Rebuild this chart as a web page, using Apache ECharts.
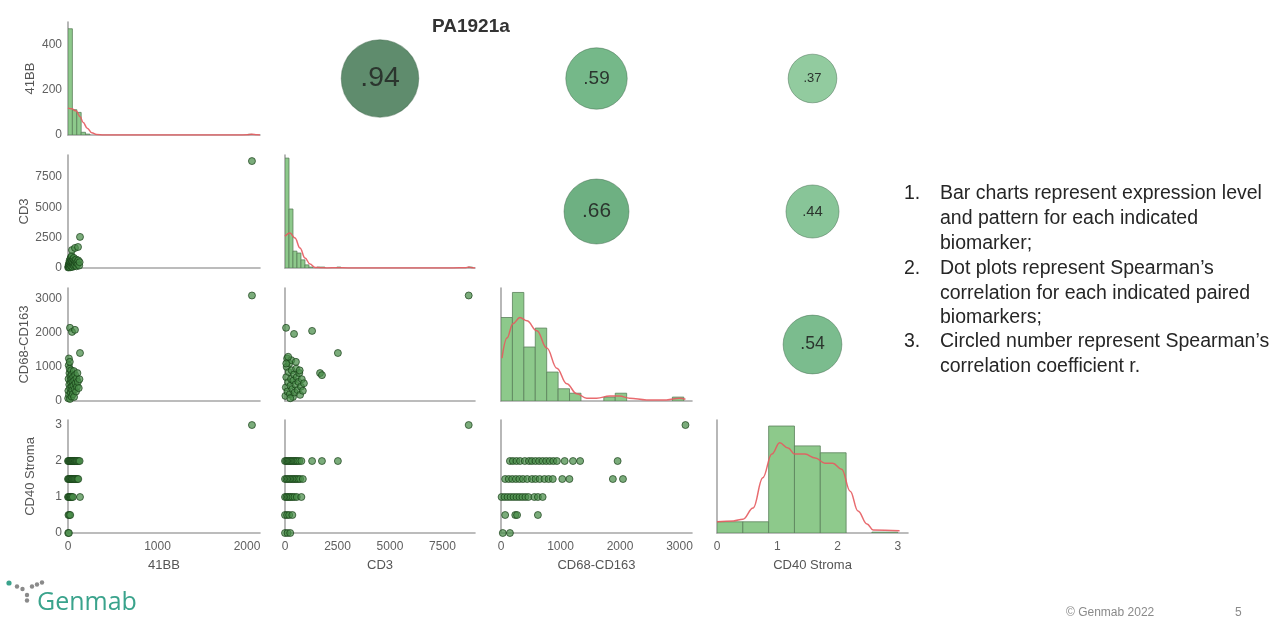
<!DOCTYPE html>
<html><head><meta charset="utf-8">
<script src="https://cdn.jsdelivr.net/npm/echarts@6/dist/echarts.min.js"></script>
<style>html,body{margin:0;padding:0;background:#fff}#c{width:1285px;height:622px}</style>
</head><body><div id="c"></div>
<script>
// ---------------- DATA ----------------
const variables = ['41BB', 'CD3', 'CD68-CD163', 'CD40 Stroma'];
const xTickValues = [[0, 1000, 2000], [0, 2500, 5000, 7500], [0, 1000, 2000, 3000], [0, 1, 2, 3]];
const yTickValues = [[0, 200, 400], [0, 2500, 5000, 7500], [0, 1000, 2000, 3000], [0, 1, 2, 3]];
const xMaxValues = [2145, 9050, 3210, 3.17];
const yMaxValues = [500, 9300, 3320, 3.14];
const histMaxCounts = [500, 362, 203, 262];
const binWidths = [49, 190, 192, 0.4286];

// histogram bins: [left edge, count]
const hist41BB = [[0, 470], [49, 112], [98, 100], [147, 12], [196, 4], [2009, 3]];
const histCD3 = [[0, 352], [190, 189], [380, 54], [570, 48], [760, 26], [950, 10], [1140, 3], [1520, 3], [1710, 3], [2470, 3], [8740, 3]];
const histCD68 = [[0, 150], [192, 195], [384, 97], [576, 131], [768, 52], [960, 22], [1152, 14], [1728, 7], [1920, 14], [2880, 7]];
const histCD40 = [[0, 26], [0.4286, 26], [0.8571, 248], [1.2857, 202], [1.7143, 186], [2.5714, 2]];

// density curves: [value, count]
const kde41BB = [[0, 119], [40, 116], [90, 107], [135, 81], [170, 55], [215, 30], [265, 10], [320, 2], [400, 0], [1000, 0], [1900, 0], [2000, 1], [2055, 3], [2110, 1], [2145, 0]];
const kdeCD3 = [[0, 102], [238, 112], [476, 96], [714, 64], [952, 32], [1190, 13], [1430, 2], [1700, 1], [2000, 0], [2500, 1], [3000, 0], [8000, 0], [8600, 1], [8750, 3], [8900, 1], [9050, 0]];
const kdeCD68 = [[17, 77], [100, 113], [200, 139], [318, 150], [435, 144], [603, 126], [770, 95], [938, 59], [1105, 31], [1273, 13], [1440, 5], [1608, 5], [1826, 9], [1993, 9], [2161, 5], [2446, 2], [2781, 2], [2998, 5], [3100, 3]];
const kdeCD40 = [[0, 26], [0.27, 28], [0.43, 32], [0.6, 58], [0.76, 128], [0.91, 183], [1.04, 209], [1.18, 197], [1.29, 183], [1.46, 183], [1.63, 174], [1.79, 162], [1.92, 162], [2.07, 148], [2.21, 97], [2.34, 51], [2.49, 21], [2.59, 7], [3.03, 5]];

// scatter points [x, y]
const pts41BB_CD3 = [[2,40],[5,120],[8,260],[10,80],[12,400],[15,180],[18,620],[20,300],[22,50],[25,520],[28,760],[30,210],[33,880],[35,420],[38,120],[40,650],[42,980],[45,330],[48,540],[50,90],[55,720],[58,260],[60,430],[65,830],[68,160],[72,600],[75,380],[80,240],[85,520],[90,700],[95,140],[100,450],[108,320],[115,620],[125,200],[130,480],[45,1480],[78,1650],[112,1730],[134,2560],[2055,8800]];
const pts41BB_CD68 = [[2,80],[4,300],[6,650],[8,1050],[10,1250],[12,180],[14,480],[16,820],[18,950],[20,1150],[22,60],[25,380],[28,720],[30,560],[32,240],[35,900],[38,640],[40,130],[42,420],[45,780],[48,320],[50,560],[55,200],[58,700],[60,450],[65,880],[68,120],[70,600],[75,340],[80,760],[85,520],[90,280],[95,660],[100,420],[105,820],[110,560],[120,380],[128,640],[22,2150],[45,2030],[78,2090],[134,1410],[2055,3100]];
const pts41BB_CD40 = [[0,2],[8,2],[15,2],[22,2],[30,2],[38,2],[45,2],[52,2],[60,2],[68,2],[76,2],[85,2],[95,2],[105,2],[118,2],[130,2],[0,1.5],[8,1.5],[16,1.5],[25,1.5],[34,1.5],[42,1.5],[50,1.5],[60,1.5],[70,1.5],[80,1.5],[92,1.5],[105,1.5],[115,1.5],[0,1],[8,1],[16,1],[24,1],[32,1],[42,1],[55,1],[134,1],[5,0.5],[15,0.5],[25,0.5],[2,0],[10,0],[2055,3]];
const ptsCD3_CD68 = [[20,150],[40,400],[60,700],[80,1000],[100,1250],[120,280],[150,550],[180,850],[200,1100],[230,200],[260,450],[290,650],[320,900],[350,350],[380,120],[400,600],[430,780],[460,250],[500,480],[530,950],[560,700],[600,320],[640,560],[680,820],[720,180],[760,420],[800,640],[850,300],[900,520],[300,1200],[150,1300],[60,1100],[520,1150],[250,80],[700,900],[50,2150],[430,1970],[1290,2060],[2520,1410],[1670,820],[1760,760],[8750,3100]];
const ptsCD3_CD40 = [[0,2],[60,2],[120,2],[180,2],[240,2],[300,2],[360,2],[420,2],[480,2],[540,2],[600,2],[680,2],[780,2],[1290,2],[1760,2],[2520,2],[0,1.5],[70,1.5],[140,1.5],[210,1.5],[280,1.5],[350,1.5],[420,1.5],[490,1.5],[560,1.5],[640,1.5],[720,1.5],[850,1.5],[0,1],[70,1],[140,1],[210,1],[280,1],[360,1],[450,1],[560,1],[780,1],[0,0.5],[100,0.5],[200,0.5],[350,0.5],[0,0],[120,0],[250,0],[8750,3]];
const ptsCD68_CD40 = [[150,2],[200,2],[260,2],[320,2],[400,2],[470,2],[520,2],[580,2],[640,2],[700,2],[760,2],[820,2],[880,2],[940,2],[1070,2],[1210,2],[1330,2],[1960,2],[70,1.5],[130,1.5],[190,1.5],[250,1.5],[310,1.5],[370,1.5],[440,1.5],[520,1.5],[580,1.5],[650,1.5],[730,1.5],[800,1.5],[870,1.5],[1030,1.5],[1150,1.5],[1880,1.5],[2050,1.5],[10,1],[60,1],[110,1],[160,1],[210,1],[260,1],[310,1],[360,1],[410,1],[460,1],[560,1],[620,1],[700,1],[70,0.5],[240,0.5],[270,0.5],[620,0.5],[30,0],[150,0],[3100,3]];

// Spearman correlations: [row variable, column variable, r]
const correlations = [['41BB', 'CD3', 0.94], ['41BB', 'CD68-CD163', 0.59], ['41BB', 'CD40 Stroma', 0.37], ['CD3', 'CD68-CD163', 0.66], ['CD3', 'CD40 Stroma', 0.44], ['CD68-CD163', 'CD40 Stroma', 0.54]];

const noteLines = [
  ['1.', 'Bar charts represent expression level'], ['', 'and pattern for each indicated'], ['', 'biomarker;'],
  ['2.', 'Dot plots represent Spearman\u2019s'], ['', 'correlation for each indicated paired'], ['', 'biomarkers;'],
  ['3.', 'Circled number represent Spearman\u2019s'], ['', 'correlation coefficient r.']
];

// ---------------- LAYOUT / STYLE ----------------
const histData = [hist41BB, histCD3, histCD68, histCD40];
const kdeData = [kde41BB, kdeCD3, kdeCD68, kdeCD40];
const lowerData = { '1-0': pts41BB_CD3, '2-0': pts41BB_CD68, '3-0': pts41BB_CD40, '2-1': ptsCD3_CD68, '3-1': ptsCD3_CD40, '3-2': ptsCD68_CD40 };

const colLeft = [68, 285, 501, 717];
const colWidth = [192, 190, 191, 191];
const rowTop = [22, 155, 288, 420];
const rowHeight = 113;
const FONT = '"Liberation Sans", Arial, sans-serif';
const axisLineStyle = { color: '#a6a6a6', width: 1.6 };
const plainNum = v => String(v);

const grids = [], xAxes = [], yAxes = [], series = [], bubbleSeries = [];

for (let r = 0; r < 4; r++) {
  for (let c = 0; c < 4; c++) {
    const i = r * 4 + c;
    const upper = c > r, diag = c === r;
    grids.push({ left: colLeft[c], top: rowTop[r], width: colWidth[c], height: rowHeight });
    xAxes.push({
      type: 'value', gridIndex: i, min: 0, max: upper ? 1 : xMaxValues[c], show: !upper,
      axisLine: { show: true, onZero: false, lineStyle: axisLineStyle },
      axisTick: { show: false }, splitLine: { show: false },
      axisLabel: { show: r === 3, customValues: xTickValues[c], formatter: plainNum, color: '#606060', fontSize: 12, fontFamily: FONT, margin: 8 },
      name: r === 3 ? variables[c] : '', nameLocation: 'middle', nameGap: 26,
      nameTextStyle: { color: '#555', fontSize: 13, fontFamily: FONT }
    });
    yAxes.push({
      type: 'value', gridIndex: i, min: 0, max: upper ? 1 : (diag ? histMaxCounts[c] : yMaxValues[r]), show: !upper,
      axisLine: { show: true, onZero: false, lineStyle: axisLineStyle },
      axisTick: { show: false }, splitLine: { show: false },
      axisLabel: { show: c === 0, customValues: yTickValues[r], formatter: plainNum, color: '#606060', fontSize: 12, fontFamily: FONT, margin: 6 },
      name: c === 0 ? variables[r] : '', nameLocation: 'middle', nameGap: 31, nameRotate: 90,
      nameTextStyle: { color: '#555', fontSize: 13, fontFamily: FONT }
    });
    if (diag) {
      const bw = binWidths[c];
      series.push({
        type: 'custom', xAxisIndex: i, yAxisIndex: i, silent: true, clip: true,
        data: histData[c].map(([l, n]) => [l, l + bw, n]),
        encode: { x: [0, 1], y: 2 },
        renderItem: (params, api) => {
          const p0 = api.coord([api.value(0), api.value(2)]);
          const p1 = api.coord([api.value(1), 0]);
          return { type: 'rect', shape: { x: p0[0], y: p0[1], width: p1[0] - p0[0], height: p1[1] - p0[1] },
            style: { fill: '#8dc98b', stroke: '#5b805b', lineWidth: 0.8 } };
        }
      });
      series.push({
        type: 'line', xAxisIndex: i, yAxisIndex: i, data: kdeData[c], smooth: 0.4, smoothMonotone: 'x',
        showSymbol: false, silent: true, lineStyle: { color: '#e65b5f', width: 1.5, opacity: 0.9 }
      });
    } else if (!upper) {
      series.push({
        type: 'scatter', xAxisIndex: i, yAxisIndex: i, data: lowerData[r + '-' + c], symbolSize: 7, silent: true,
        itemStyle: { color: 'rgba(72,140,72,0.72)', borderColor: 'rgba(20,58,20,0.75)', borderWidth: 0.9, opacity: 1 }
      });
    } else {
      const rv = correlations.find(d => d[0] === variables[r] && d[1] === variables[c])[2];
      bubbleSeries.push(series.length);
      series.push({
        type: 'scatter', xAxisIndex: i, yAxisIndex: i, silent: true,
        data: [{ value: [0.5, 0.5, rv], symbolSize: 80 * Math.sqrt(rv), label: { fontSize: 3 + 27 * rv } }],
        itemStyle: { borderColor: 'rgba(60,100,70,0.45)', borderWidth: 1, opacity: 1 },
        label: { show: true, position: 'inside', color: '#2b352e', fontFamily: FONT,
          formatter: p => p.value[2].toFixed(2).replace(/^0/, '') }
      });
    }
  }
}

const graphics = [];
const lineY = [195, 220, 245, 270, 294.5, 319, 343, 367.5];
noteLines.forEach((ln, k) => {
  if (ln[0]) graphics.push({ type: 'text', left: 904, top: lineY[k] - 11, style: { text: ln[0], font: '19.5px ' + FONT, fill: '#262626' } });
  graphics.push({ type: 'text', left: 940, top: lineY[k] - 11, style: { text: ln[1], font: '19.5px ' + FONT, fill: '#262626' } });
});
// logo
[[9, 583, '#3aa38c', 2.6], [17, 586.5, '#8a8a8a', 2.2], [22.5, 589, '#8a8a8a', 2.2], [32, 586.5, '#8a8a8a', 2.2], [37, 584.5, '#8a8a8a', 2.2], [42, 582.5, '#8a8a8a', 2.2], [27, 595, '#8a8a8a', 2.2], [27, 600.5, '#8a8a8a', 2.2]].forEach(d => {
  graphics.push({ type: 'circle', shape: { cx: d[0], cy: d[1], r: d[3] }, style: { fill: d[2] } });
});
graphics.push({ type: 'text', left: 37, top: 590, style: { text: 'Genmab', font: '25px "Open Sans", sans-serif', fill: '#3aa38c' } });
graphics.push({ type: 'text', left: 1066, top: 607, style: { text: '\u00a9 Genmab 2022', font: '12px ' + FONT, fill: '#8a8a8a' } });
graphics.push({ type: 'text', left: 1235, top: 607, style: { text: '5', font: '12px ' + FONT, fill: '#8a8a8a' } });

const chart = echarts.init(document.getElementById('c'), null, { renderer: 'canvas' });
chart.setOption({
  backgroundColor: '#fff',
  animation: false,
  title: { text: 'PA1921a', left: 432, top: 17, padding: 0, textStyle: { fontSize: 19, fontWeight: 'bold', color: '#333', fontFamily: FONT } },
  grid: grids, xAxis: xAxes, yAxis: yAxes, series: series,
  visualMap: { show: false, type: 'continuous', min: 0.3, max: 0.95, dimension: 2, seriesIndex: bubbleSeries,
    inRange: { color: ['#9bd1a6', '#70b585', '#5e8b6c'] } },
  graphic: graphics
});
</script></body></html>
